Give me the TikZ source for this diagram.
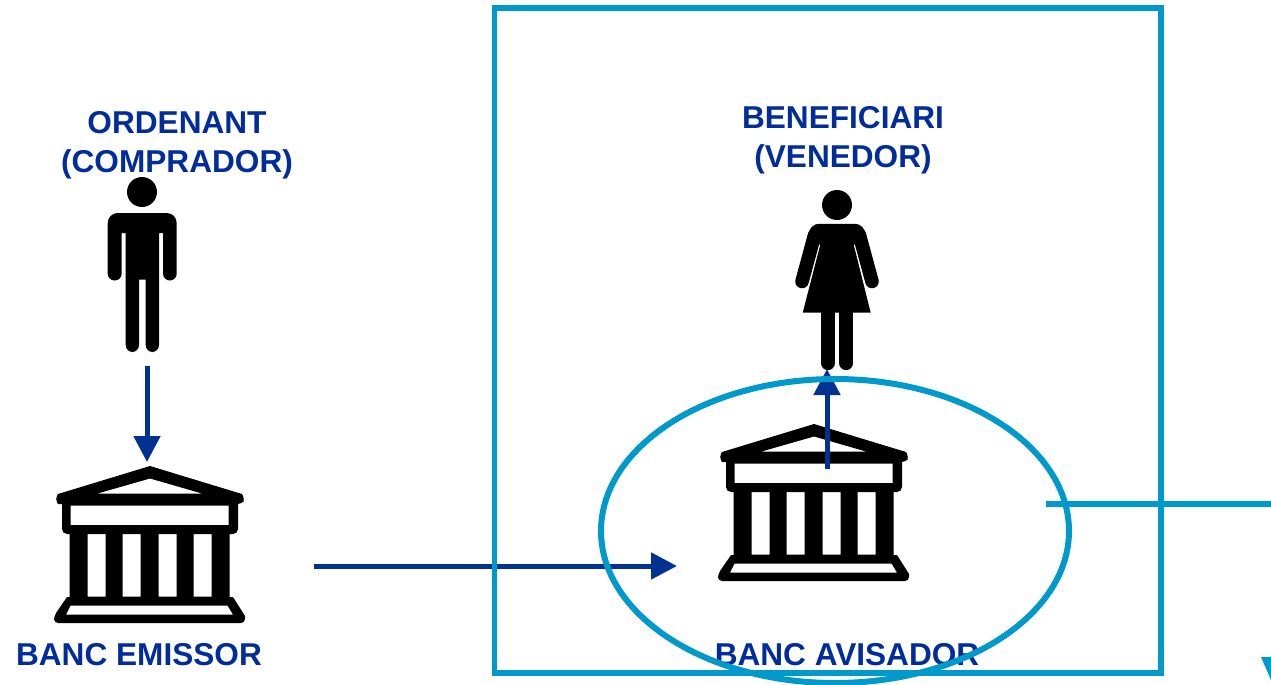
\documentclass[tikz,border=0pt]{standalone}
\usepackage{fontspec}
\setmainfont{Liberation Sans}
\usetikzlibrary{arrows.meta}
\definecolor{labelBlue}{RGB}{0,44,156}
\definecolor{arrowBlue}{RGB}{0,51,145}
\definecolor{frameTeal}{RGB}{0,153,204}

\begin{document}
\begin{tikzpicture}[
    x=1pt,y=-1pt,
    label/.style={%
      text=labelBlue,
      align=center,
      inner sep=0pt,
      font=\fontsize{31.6}{39}\selectfont\bfseries,
    },
    flow/.style={%
      draw=arrowBlue,
      line width=5pt,
      -{Triangle[length=26pt,width=26pt]},
    },
    frame/.style={%
      draw=frameTeal,
      line width=5.2pt,
    },
    bank/.pic={
      % roof, beam, columns and steps, the openings left empty
      \fill[even odd rule,line join=round]
        (0,-1) -- (92,27) [rounded corners=4pt] -- (95,32) -- (92,37)
        [sharp corners] -- (88,37) -- (88,61) [rounded corners=5pt] -- (88,67)
        [sharp corners] -- (79.5,67) -- (79.5,130) -- (83,130)
        -- (95,149) [rounded corners=4pt] -- (95,156) -- (-96,156) -- (-96,149)
        [sharp corners] -- (-83,130) -- (-80.5,130) -- (-80.5,67)
        [rounded corners=5pt] -- (-88,67) [sharp corners] -- (-88,37) -- (-92,37)
        [rounded corners=4pt] -- (-95,32) [sharp corners] -- (-92,27) -- cycle
        (0,11.5) -- (52,26.5) -- (-52.5,26.5) -- cycle
        (-79.5,38.5) rectangle (78.5,58)
        (-62.5,67) rectangle (-44.5,129.5)
        (-27.5,67) rectangle (-9.5,129.5)
        (8.5,67) rectangle (26.5,129.5)
        (43.5,67) rectangle (61.5,129.5)
        (-79.5,138.5) -- (77.5,138.5) -- (83,147.5) -- (-84,147.5) -- cycle;
    },
    man/.pic={
      \fill (0,0) circle (15);
      \fill[rounded corners=10pt] (0,21) -- (34.7,21)
        [rounded corners=6.9pt] -- (34.7,88.5) -- (21,88.5)
        [sharp corners] -- (21,41) -- (17,41)
        [rounded corners=6.9pt] -- (17,160) -- (3.7,160)
        [sharp corners] -- (3.7,87.7) -- (-3,87.7)
        [rounded corners=6.9pt] -- (-3,160) -- (-16.3,160)
        [sharp corners] -- (-16.3,41) -- (-20.3,41)
        [rounded corners=6.9pt] -- (-20.3,88.5) -- (-34.3,88.5)
        [rounded corners=10pt] -- (-34.3,21) -- cycle;
    },
    woman/.pic={
      \fill (0,0) circle (15);
      \fill (-17,18.8) .. controls (-25,18.8) and (-27.5,24) .. (-29,30)
        -- (-16.8,40) -- (-34.3,107.7) -- (33.7,107.7) -- (16.8,40) -- (29,30)
        .. controls (27.5,24) and (25,18.8) .. (17,18.8) -- cycle;
      \draw[line width=13.6pt,line cap=round]
        (-35,76.5) -- (-22.4,30) (22.4,30) -- (35,76.5);
      \draw[line width=14.3pt,line cap=round]
        (-9.2,105) -- (-9.2,158) (9.2,105) -- (9.2,158);
    },
  ]

    \useasboundingbox (0,0) rectangle (1271,685);

    \node [label] (ordenant) at (177,145) {ORDENANT\\(COMPRADOR)};
    \node [label] (beneficiari) at (843,140) {BENEFICIARI\\(VENEDOR)};
    \node [label] (emissor) at (139,655) {BANC EMISSOR};
    \node [label] (avisador) at (847,655) {BANC AVISADOR};

    \pic at (142,192) {man};
    \pic at (837,205) {woman};
    \pic at (150,467) {bank};
    \pic at (814,425) {bank};

    \coordinate (manFoot) at (147,366);
    \coordinate (emissorTop) at (147,462);
    \coordinate (emissorSide) at (314,566);
    \coordinate (avisadorSide) at (677,566);
    \coordinate (avisadorMid) at (827,469);
    \coordinate (womanFoot) at (827,369);
    \coordinate (ringEdge) at (1046,504);
    \coordinate (pageEdge) at (1271,504);

    \draw [flow] (manFoot) -- (emissorTop);
    \draw [flow] (avisadorMid) -- (womanFoot);
    \draw [flow] (emissorSide) -- (avisadorSide);
    \draw [frame] (494.7,8) rectangle (1161,673);
    \draw [frame,line width=6pt] (835,531) ellipse (234 and 152);
    \draw [frame] (ringEdge) -- (pageEdge);
    \fill [frameTeal] (1261,657) -- (1271,657) -- (1271,680) -- cycle;
\end{tikzpicture}
\end{document}
